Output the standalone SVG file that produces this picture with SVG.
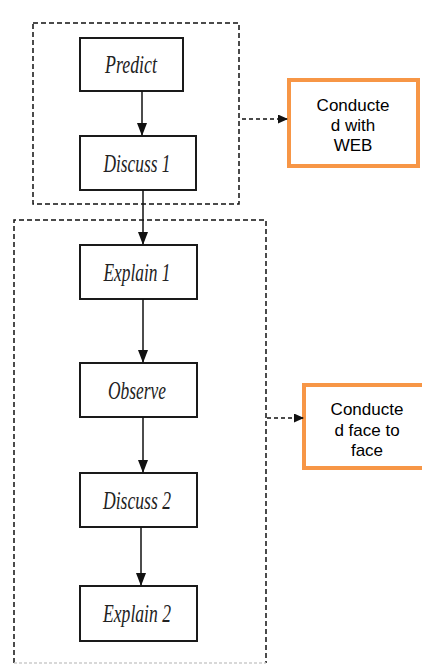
<svg xmlns="http://www.w3.org/2000/svg" width="422" height="667" viewBox="0 0 422 667">
<defs>
<style>
.step{fill:#fff;stroke:#1a1a1a;stroke-width:2}
.lbl{font-family:"Liberation Serif","DejaVu Serif",serif;font-style:italic;font-size:25px;fill:#222;text-anchor:middle}
.grp{fill:none;stroke:#111;stroke-width:1.5;stroke-dasharray:5 3}
.note{fill:#fff;stroke:#F79646;stroke-width:4}
.ntxt{font-family:"Liberation Sans",Arial,sans-serif;font-size:17px;fill:#000;text-anchor:middle}
.conn{stroke:#111;stroke-width:1.5;fill:none}
.dconn{stroke:#111;stroke-width:1.5;fill:none;stroke-dasharray:4 3}
</style>
<marker id="ah" markerWidth="13" markerHeight="10" refX="12" refY="5" orient="auto" markerUnits="userSpaceOnUse" viewBox="0 0 13 10">
<path d="M0,0 L13,5 L0,10 Z" fill="#111"/>
</marker>
<marker id="ahs" markerWidth="10" markerHeight="9" refX="9" refY="4.5" orient="auto" markerUnits="userSpaceOnUse" viewBox="0 0 10 9">
<path d="M0,0 L10,4.5 L0,9 Z" fill="#111"/>
</marker>
</defs>
<rect width="422" height="667" fill="#fff"/>
<g id="group-web">
<rect class="grp" x="33" y="23" width="206" height="181"/>
</g>
<g id="group-face">
<path class="grp" d="M14,663 V220 H266 V663"/>
<path d="M14,663 H266" stroke="#ccc" stroke-width="1.5" stroke-dasharray="3 2" fill="none"/>
</g>
<g id="predict"><rect class="step" x="80" y="38" width="103" height="53"/><text class="lbl" x="131" y="73" textLength="52" lengthAdjust="spacingAndGlyphs">Predict</text></g>
<g id="discuss1"><rect class="step" x="80" y="136" width="116" height="54"/><text class="lbl" x="137" y="172" textLength="67" lengthAdjust="spacingAndGlyphs">Discuss 1</text></g>
<g id="explain1"><rect class="step" x="80" y="245" width="117" height="54"/><text class="lbl" x="137" y="281" textLength="67" lengthAdjust="spacingAndGlyphs">Explain 1</text></g>
<g id="observe"><rect class="step" x="80" y="363" width="117" height="54"/><text class="lbl" x="137" y="399" textLength="58" lengthAdjust="spacingAndGlyphs">Observe</text></g>
<g id="discuss2"><rect class="step" x="80" y="473" width="117" height="54"/><text class="lbl" x="137" y="509" textLength="68" lengthAdjust="spacingAndGlyphs">Discuss 2</text></g>
<g id="explain2"><rect class="step" x="80" y="586" width="117" height="55"/><text class="lbl" x="137" y="622" textLength="68" lengthAdjust="spacingAndGlyphs">Explain 2</text></g>
<g id="note-web"><rect class="note" x="289" y="80" width="129" height="86"/>
<text class="ntxt" x="353" y="111">Conducte</text><text class="ntxt" x="353" y="131">d with</text><text class="ntxt" x="353" y="151">WEB</text></g>
<g id="note-face"><rect class="note" x="304" y="385" width="127" height="83"/>
<text class="ntxt" x="367" y="415">Conducte</text><text class="ntxt" x="367" y="436">d face to</text><text class="ntxt" x="367" y="456">face</text></g>
<g id="connectors">
<line class="conn" x1="142" y1="91" x2="142" y2="135" marker-end="url(#ah)"/>
<line class="conn" x1="143" y1="190" x2="143" y2="244" marker-end="url(#ah)"/>
<line class="conn" x1="143" y1="299" x2="143" y2="362" marker-end="url(#ah)"/>
<line class="conn" x1="143" y1="417" x2="143" y2="472" marker-end="url(#ah)"/>
<line class="conn" x1="141" y1="527" x2="141" y2="585" marker-end="url(#ah)"/>
<line class="dconn" x1="242" y1="119" x2="287" y2="119" marker-end="url(#ahs)"/>
<line class="dconn" x1="267" y1="418" x2="303" y2="418" marker-end="url(#ahs)"/>
</g>
</svg>
